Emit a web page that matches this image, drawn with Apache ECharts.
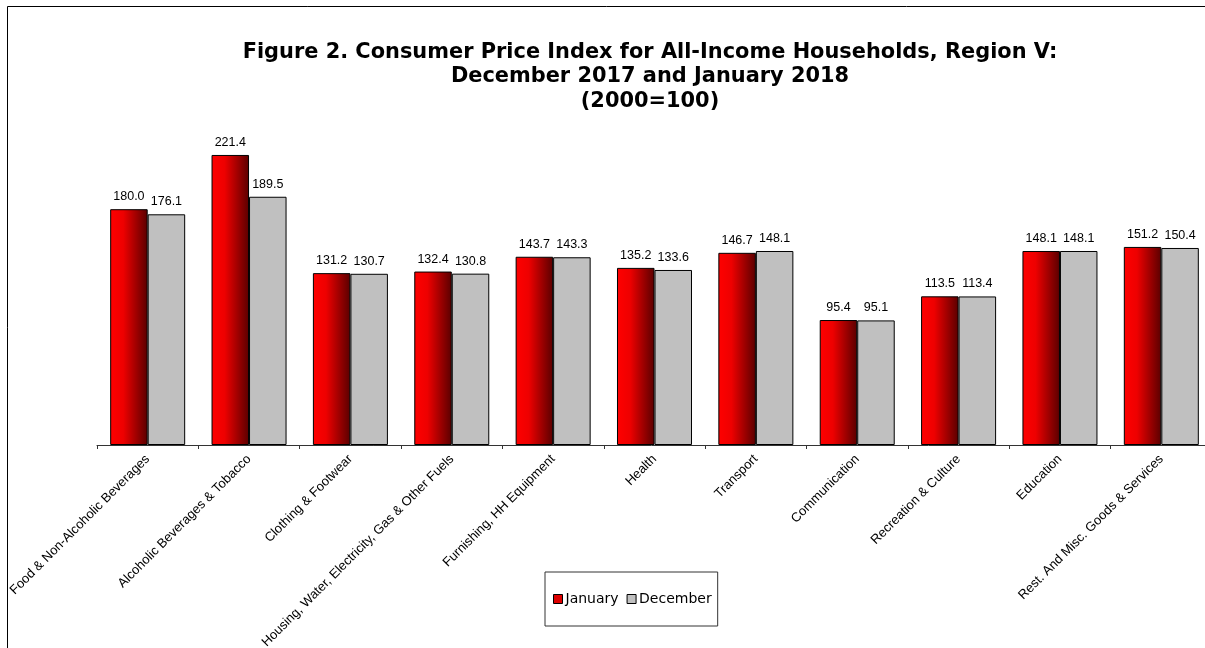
<!DOCTYPE html>
<html><head><meta charset="utf-8">
<script src="https://cdn.jsdelivr.net/npm/echarts@6/dist/echarts.min.js"></script>
<style>html,body{margin:0;padding:0;background:#fff}#c{width:1205px;height:648px}</style>
</head><body><div id="c"></div>
<script>
const categories = ["Food & Non-Alcoholic Beverages","Alcoholic Beverages & Tobacco","Clothing & Footwear","Housing, Water, Electricity, Gas & Other Fuels","Furnishing, HH Equipment","Health","Transport","Communication","Recreation & Culture","Education","Rest. And Misc. Goods & Services"];
const january = [180.0,221.4,131.2,132.4,143.7,135.2,146.7,95.4,113.5,148.1,151.2];
const december = [176.1,189.5,130.7,130.8,143.3,133.6,148.1,95.1,113.4,148.1,150.4];
const titleLines = ["Figure 2. Consumer Price Index for All-Income Households, Region V:","December 2017 and January 2018","(2000=100)"];

const chart = echarts.init(document.getElementById('c'), null, {renderer:'canvas'});
const redGrad = new echarts.graphic.LinearGradient(0,0,1,0,[{offset:0,color:'#ff0000'},{offset:0.35,color:'#ee0000'},{offset:1,color:'#5a0000'}]);
const lbl = {show:true, position:'top', distance:6, fontFamily:'Liberation Sans, Arial', fontSize:12.5, color:'#000', formatter:p=>p.value.toFixed(1)};
chart.setOption({
  animation:false,
  title:{text:titleLines.join('\n'), left:650, textAlign:'center', top:40, padding:0,
    textStyle:{fontFamily:'DejaVu Sans', fontWeight:'bold', fontSize:20.9, lineHeight:24.5, color:'#000'}},
  graphic:[{type:'rect', shape:{x:7.5,y:6.5,width:1210,height:700}, style:{fill:'none', stroke:'#000', lineWidth:1}, silent:true}],
  legend:{left:545, top:572, orient:'horizontal', padding:[20,6,20,8], itemGap:8, itemWidth:9, itemHeight:9,
    borderColor:'#333', borderWidth:1, backgroundColor:'#fff',
    textStyle:{fontFamily:'DejaVu Sans', fontSize:14, color:'#000', padding:[0,0,0,-2]},
    data:[{name:'January', icon:'rect', itemStyle:{color:'#dd0000', borderColor:'#000', borderWidth:1}},
          {name:'December', icon:'rect', itemStyle:{color:'#c0c0c0', borderColor:'#000', borderWidth:1}}]},
  grid:{left:97, right:-7, top:117.5, bottom:203, containLabel:false, outerBoundsMode:'none'},
  xAxis:{type:'category', data:categories,
    axisLine:{lineStyle:{color:'#333', width:1}},
    axisTick:{show:true, length:4, alignWithLabel:false, lineStyle:{color:'#333'}},
    axisLabel:{rotate:45, interval:0, margin:12, fontFamily:'Liberation Sans, Arial', fontSize:13, color:'#000'}},
  yAxis:{type:'value', min:0, max:250, show:false, splitLine:{show:false}},
  series:[
    {name:'January', type:'bar', data:january, barGap:'0%', barCategoryGap:'26%',
      itemStyle:{color:redGrad, borderColor:'#000', borderWidth:1}, label:lbl},
    {name:'December', type:'bar', data:december,
      itemStyle:{color:'#c0c0c0', borderColor:'#000', borderWidth:1}, label:lbl}
  ]
});
</script></body></html>
